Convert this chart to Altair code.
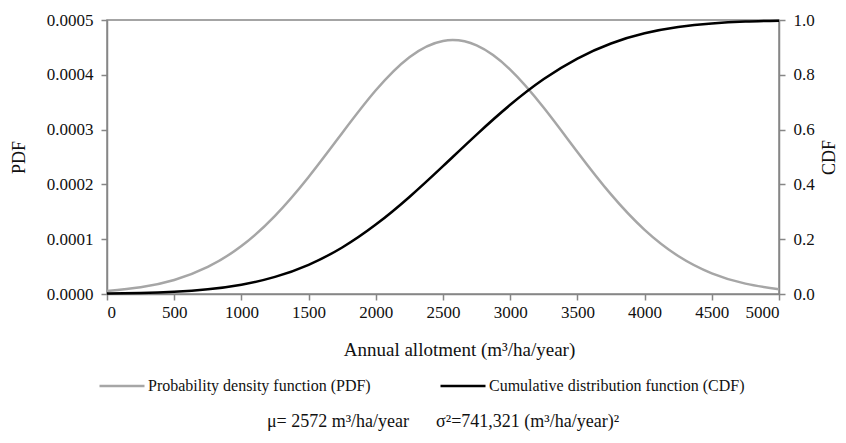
import altair as alt
import pandas as pd

# Annual allotment (m3/ha/year)
x_vals = [0, 250, 500, 750, 1000, 1250, 1500, 1750, 2000, 2250, 2500,
          2750, 3000, 3250, 3500, 3750, 4000, 4250, 4500, 4750, 5000]
pdf_vals = [0.0000054, 0.0000122, 0.0000256, 0.0000494, 0.0000875, 0.0001426,
            0.0002135, 0.0002938, 0.0003717, 0.0004321, 0.0004618, 0.0004536,
            0.0004095, 0.0003398, 0.0002592, 0.0001817, 0.0001171, 0.0000694,
            0.0000378, 0.0000189, 0.0000087]
cdf_vals = [0.0014, 0.0035, 0.0081, 0.0172, 0.0339, 0.0624, 0.1066, 0.1698,
            0.2533, 0.3542, 0.4667, 0.5819, 0.6904, 0.7845, 0.8594, 0.9144,
            0.9514, 0.9743, 0.9874, 0.9943, 0.9976]
series_names = ["Probability density function (PDF)",
                "Cumulative distribution function (CDF)"]
series_colors = ["#a6a6a6", "#000000"]
x_ticks = [0, 500, 1000, 1500, 2000, 2500, 3000, 3500, 4000, 4500, 5000]
pdf_ticks = [0, 0.0001, 0.0002, 0.0003, 0.0004, 0.0005]
cdf_ticks = [0, 0.2, 0.4, 0.6, 0.8, 1.0]
note_text = ("\u03bc= 2572 m\u00b3/ha/year\u2003\u2002\u03c3\u00b2=741,321 "
             "(m\u00b3/ha/year)\u00b2")

FONT = "Liberation Serif"
AXIS_GRAY = "#868686"
TXT = "#111111"

pdf_df = pd.DataFrame({"x": x_vals, "v": pdf_vals, "series": series_names[0]})
cdf_df = pd.DataFrame({"x": x_vals, "v": cdf_vals, "series": series_names[1]})

W, H = 672, 274


def axis(**kw):
    base = dict(grid=False, domainColor=AXIS_GRAY, domainWidth=1.5, tickColor=AXIS_GRAY,
                tickSize=6, tickWidth=1.5, labelFont=FONT, labelFontSize=17,
                labelColor=TXT, titleFont=FONT, titleFontSize=18,
                titleFontWeight="normal", titleColor=TXT, labelPadding=4)
    base.update(kw)
    return alt.Axis(**base)


xenc = alt.X("x:Q", scale=alt.Scale(domain=[0, 5000], nice=False),
             axis=axis(values=x_ticks, format="d",
                       title="Annual allotment (m\u00b3/ha/year)", titlePadding=20,
                       titleFontSize=19, titleX=352, titleAnchor="start",
                       titleAlign="center"))
color = alt.Color("series:N",
                  scale=alt.Scale(domain=series_names, range=series_colors),
                  legend=alt.Legend(orient="none", direction="horizontal", title=None,
                                    legendX=-9, legendY=342, symbolType="stroke",
                                    symbolSize=2025, symbolStrokeWidth=2.5,
                                    labelFont=FONT, labelFontSize=16, labelColor=TXT,
                                    labelOffset=2, columnPadding=64,
                                    labelLimit=400))

pdf_line = alt.Chart(pdf_df).mark_line(strokeWidth=2.5, interpolate="natural").encode(
    x=xenc,
    y=alt.Y("v:Q", scale=alt.Scale(domain=[0, 0.0005], nice=False),
            axis=axis(values=pdf_ticks, format=".4f", title="PDF", orient="left",
                      titlePadding=18, labelPadding=8)),
    color=color,
)
cdf_line = alt.Chart(cdf_df).mark_line(strokeWidth=2.5, interpolate="natural").encode(
    x=xenc,
    y=alt.Y("v:Q", scale=alt.Scale(domain=[0, 1], nice=False),
            axis=axis(values=cdf_ticks, format=".1f", title="CDF", orient="right",
                      titlePadding=24, titleAngle=270, labelPadding=8)),
    color=color,
)
note = alt.Chart(pd.DataFrame({"t": [note_text]})).mark_text(
    font=FONT, fontSize=18, color=TXT, align="center", baseline="middle"
).encode(x=alt.value(W / 2), y=alt.value(402), text="t:N")

chart = alt.layer(pdf_line, cdf_line, note).resolve_scale(y="independent").properties(
    width=W, height=H,
    autosize=alt.AutoSizeParams(type="none"),
    padding={"left": 99, "top": 12, "right": 59, "bottom": 140},
).configure(font=FONT).configure_view(stroke=AXIS_GRAY, strokeWidth=1.5)

chart.save("out.html", embed_options={"renderer": "svg", "actions": False})
